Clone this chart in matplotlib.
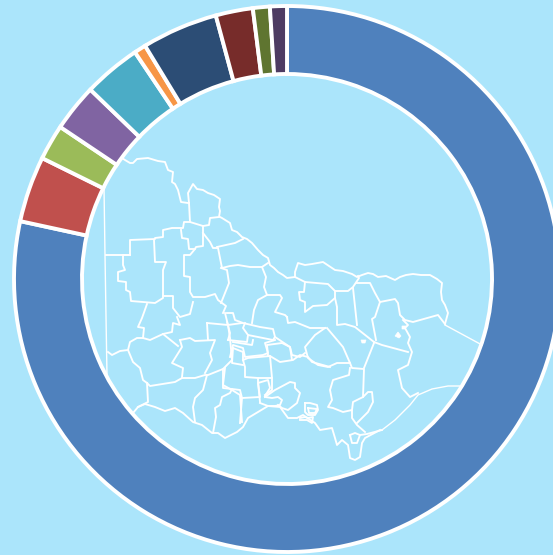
import matplotlib
matplotlib.use('Agg')
from matplotlib import pyplot as plt

# share of each slice, clockwise from the top
shares=[78.4,3.9,2.1,2.8,3.4,0.7,4.5,2.2,1.0,1.0]
colors=['#4F81BD','#C0504D','#9BBB59','#8064A2','#4BACC6','#F79646','#2C4D75','#772C2A','#5F7530','#4D3B62']
background='#ABE5FB'

# map outlines (x, y in image pixels)
murray=[(122,158),(125,160),(130,163),(133,163),(137,159),(148,158),(158,161),(165,162),(168,170),(173,172),(172,182),(175,184),(178,190),(180,198),(181,202),(188,203)]
northwest_box=[(189,203),(188,193),(193,184),(197,189),(203,190),(208,193),(214,195),(220,199),(219,207),(220,211),(219,217),(210,218),(209,225),(203,226),(190,222),(189,203)]
river=[(220,217),(222,218),(230,223),(232,230),(237,232),(242,237),(247,239),(252,243),(258,250),(263,255),(268,258),(270,265),(274,268),(278,272),(283,275),(287,278),(295,277),(295,272),(298,263),(305,265),(312,264),(323,262),(329,266),(335,270),(343,271),(352,274),(357,277),(362,275),(368,273),(373,274),(378,277),(386,276),(395,280),(400,277),(406,275),(413,274),(421,275),(430,275),(437,279),(442,283),(441,292),(442,300),(445,305),(448,313),(445,324)]
west_top=[(106,255),(130,255),(130,240),(155,239),(155,238),(163,237),(163,230),(172,228),(183,228),(184,222),(190,222)]
box_a=[(130,255),(123,255),(123,265),(125,270),(118,272),(118,281),(126,282),(126,290),(130,292),(131,301),(143,302),(155,303),(163,298),(163,270),(166,262),(155,262),(154,240)]
strip=[(163,296),(173,296),(173,308),(180,317),(190,314),(193,302)]
west_mid=[(147,304),(142,318),(138,327),(144,328),(143,338)]
north_strip=[(181,230),(182,238),(188,239),(189,249),(195,249),(196,247),(203,246),(203,226)]
inner_a=[(195,249),(190,255),(184,255),(184,276),(190,277),(190,292),(193,297),(205,297),(215,294),(218,300),(226,306),(223,313)]
inner_b=[(203,233),(210,242),(213,248),(218,248),(222,268),(230,266),(238,265),(250,267),(262,267),(268,263)]
inner_c=[(217,247),(235,243),(243,239)]
inner_d=[(221,268),(227,270),(229,283),(223,298),(221,303)]
inner_e=[(262,267),(266,277),(264,287),(267,295),(280,295),(282,298),(275,312),(285,315),(287,317)]
inner_f=[(267,295),(258,300),(254,310),(252,323)]
middle_a=[(227,313),(233,313),(235,320),(243,323),(260,327),(273,329),(275,337),(273,340)]
middle_b=[(287,317),(288,323),(295,322),(310,328),(325,328)]
middle_c=[(275,337),(290,347),(292,355),(300,357),(305,353)]
east_box=[(305,282),(304,292),(299,292),(300,300),(305,302),(305,312),(313,306),(327,305),(335,298),(335,291)]
east_top=[(295,277),(305,282),(328,284),(335,291),(348,291),(353,287),(359,278),(358,276)]
east_a=[(335,298),(337,307),(337,325),(345,324),(355,327),(374,342)]
east_b=[(353,288),(357,325)]
east_c=[(357,283),(370,283),(375,293),(380,302),(395,299),(398,303),(400,315),(405,320),(413,322),(438,315),(445,324)]
east_d=[(380,302),(375,317),(372,319),(376,340)]
east_e=[(374,342),(382,345),(408,352)]
east_f=[(374,343),(364,368)]
gipps_a=[(325,328),(315,335),(305,347),(308,358),(318,365),(328,367),(337,363),(350,363),(343,347),(327,328)]
gipps_b=[(350,363),(352,368),(364,369),(363,397)]
gipps_c=[(350,368),(349,375),(333,380),(330,390),(332,400),(328,407),(333,408),(343,412),(352,410),(353,402),(363,397),(368,392),(372,392),(373,402),(368,412),(357,423)]
gipps_d=[(352,410),(352,418),(357,425),(365,432)]
far_east=[(403,320),(408,325),(405,328),(410,337),(408,343),(412,352),(408,365),(398,370),(402,388),(410,397),(418,393)]
south_coast=[(133,413),(138,407),(145,404),(155,407),(165,411),(175,408),(183,413),(193,422),(202,425),(212,433),(218,433),(225,438),(237,432),(243,427),(248,418),(258,412),(268,406),(280,407),(288,418),(297,418),(303,415),(315,423),(320,430),(332,428),(335,438),(337,445),(342,440),(348,445),(350,458),(355,460),(360,457),(362,443),(365,438),(380,430)]
prom=[(350,435),(355,433),(360,435),(357,443),(352,443),(350,435)]
corner=[(360,435),(367,434),(382,430)]
state_line=[(382,430),(395,420),(410,405),(418,395),(432,389),(448,386),(460,386)]
nsw_line=[(445,325),(482,345)]
sa_line=[(104,187),(105,255),(106,316),(107,376)]
bay_a=[(305,403),(310,403),(317,405),(318,410),(315,415),(308,415),(305,412),(305,403)]
bay_b=[(308,408),(317,409),(315,413),(309,413),(308,408)]
bay_c=[(300,418),(305,417),(308,418),(313,417),(312,423),(307,420),(300,420)]
port_a=[(265,397),(275,390),(290,382),(295,383),(295,388),(300,393),(297,403),(288,410),(282,408),(278,405)]
port_b=[(265,397),(272,398),(278,397),(282,400),(280,405),(275,406),(268,406),(260,403)]
west_a=[(147,383),(148,402),(138,407)]
west_b=[(147,383),(150,386),(175,382),(182,378),(195,378),(205,375),(208,375),(223,369),(223,388),(232,389),(230,393),(222,397),(220,405),(215,408),(216,417),(213,433)]
west_c=[(207,375),(203,390),(195,398),(193,407),(195,422)]
west_d=[(232,389),(240,390),(242,398),(240,423)]
west_e=[(242,398),(260,397),(258,383),(268,380),(270,388),(265,396)]
west_f=[(108,352),(112,355),(120,351),(128,350),(130,342),(137,338),(143,338),(150,340),(163,334),(178,346)]
west_g=[(128,350),(133,362),(140,368),(143,380),(147,383)]
west_h=[(163,334),(172,332),(173,323),(180,325),(177,317)]
west_i=[(180,340),(182,347),(172,363),(183,368),(182,377)]
west_j=[(180,340),(190,338),(195,341),(215,340),(210,353),(212,360),(205,373)]
west_k=[(207,323),(208,340)]
west_l=[(207,323),(228,325),(230,338),(232,360),(223,369)]
west_m=[(225,313),(228,325),(242,323)]
centre_a=[(233,348),(243,352),(243,360),(245,367),(245,377),(258,378)]
centre_b=[(233,348),(232,363),(243,365)]
centre_c=[(243,360),(248,358),(270,356),(272,378),(258,378),(258,382),(260,402)]
centre_d=[(272,378),(272,390),(265,395)]
centre_e=[(225,368),(223,385),(232,390),(240,395),(242,422)]
centre_f=[(233,342),(252,345),(253,340)]
centre_g=[(270,356),(280,362),(293,360),(300,355),(308,357),(312,362),(330,367)]
centre_h=[(268,355),(267,345),(282,343),(290,347),(292,360)]
centre_i=[(230,357),(233,345),(243,348),(245,357),(263,355),(268,353),(265,343),(275,340)]
centre_j=[(228,340),(247,342),(248,335),(273,340)]
centre_k=[(227,322),(230,333),(228,340)]
centre_l=[(248,335),(243,328),(245,323)]
borders=[murray,northwest_box,river,west_top,box_a,strip,west_mid,north_strip,inner_a,inner_b,inner_c,inner_d,inner_e,inner_f,
         middle_a,middle_b,middle_c,east_box,east_top,east_a,east_b,east_c,east_d,east_e,east_f,gipps_a,gipps_b,gipps_c,gipps_d,
         far_east,south_coast,prom,corner,bay_a,bay_b,bay_c,port_a,port_b,west_a,west_b,west_c,west_d,west_e,west_f,west_g,west_h,
         west_i,west_j,west_k,west_l,west_m,centre_a,centre_b,centre_c,centre_d,centre_e,centre_f,centre_g,centre_h,centre_i,centre_j,centre_k,centre_l]
thin_borders=[state_line,nsw_line,sa_line]
# small islands / lakes in the east
blobs=[[(361,340),(366,340),(365,343),(362,343)],[(395,336),(398,332),(401,336),(399,338)],[(402,326),(406,326),(405,329),(402,329)]]

W,H=553,555
fig=plt.figure(figsize=(W/100,H/100),dpi=100,facecolor=background)

# donut
cx,cy,r_out,r_in=287,279,273,205
pad=1.1
side=2*r_out*pad
ax=fig.add_axes([(cx-side/2)/W,1-(cy+side/2)/H,side/W,side/H])
ax.pie(shares,colors=colors,startangle=90,counterclock=False,radius=1,
       wedgeprops=dict(width=(r_out-r_in)/r_out,edgecolor='white',linewidth=2.8))
ax.set_xlim(-pad,pad)
ax.set_ylim(-pad,pad)
ax.set_aspect('equal')
ax.axis('off')

# map on top, image pixel coordinates
m=fig.add_axes([0,0,1,1])
m.set_xlim(0,W)
m.set_ylim(H,0)
m.axis('off')
m.patch.set_alpha(0)
for line in borders:
    m.plot([p[0] for p in line],[p[1] for p in line],color='white',lw=1.35,solid_joinstyle='round')
for line in thin_borders:
    m.plot([p[0] for p in line],[p[1] for p in line],color='white',lw=1.0)
for blob in blobs:
    m.fill([p[0] for p in blob],[p[1] for p in blob],color='white',lw=0.5)

fig.savefig('out.png',dpi=100,facecolor=background)
